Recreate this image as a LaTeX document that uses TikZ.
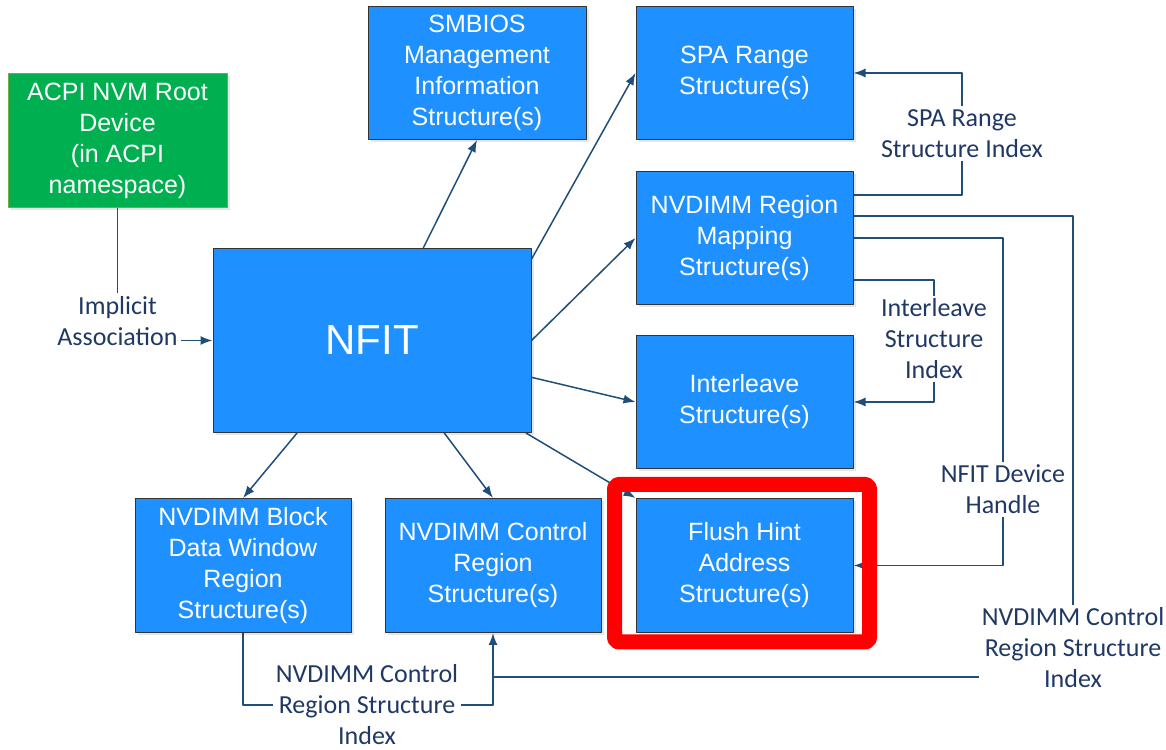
\documentclass[tikz,border=0pt]{standalone}
\usepackage{fontspec}
\setmainfont{Liberation Sans}
\newfontfamily\tagfont{Carlito}
\usetikzlibrary{arrows.meta,shadows}
\definecolor{boxblue}{RGB}{30,144,255}
\definecolor{rootgreen}{RGB}{0,176,80}
\definecolor{rootedge}{RGB}{112,173,71}
\definecolor{linkblue}{RGB}{31,78,121}
\definecolor{tagnavy}{RGB}{31,56,100}
\definecolor{hintred}{RGB}{255,0,0}
\begin{document}
\begin{tikzpicture}[>={Latex[length=12bp,width=9bp]},line join=bevel,
  box/.style={draw=black!80,line width=1bp,fill=boxblue,text=white,align=center,
    minimum width=217bp,minimum height=134bp,inner sep=0pt,
    font=\fontsize{25bp}{31bp}\selectfont,
    drop shadow={opacity=0.2,shadow xshift=3bp,shadow yshift=-3bp}},
  rootbox/.style={box,fill=rootgreen,draw=rootedge,minimum width=219bp},
  tag/.style={text=tagnavy,align=center,inner sep=3bp,font=\tagfont\fontsize{26bp}{31bp}\selectfont},
  link/.style={linkblue,line width=1.5bp},
]
\useasboundingbox (0bp,0bp) rectangle (1166bp,750bp);
%%
\node (node_root) at (117.5bp,609.5bp) [rootbox] {ACPI NVM Root\\Device\\(in ACPI\\namespace)};
  \node (node_nfit) at (372.0bp,409.5bp) [box,minimum width=318bp,minimum height=184bp,font=\fontsize{42bp}{50bp}\selectfont] {NFIT};
  \node (node_smbios) at (477.0bp,677.0bp) [box,minimum width=218bp,minimum height=133bp] {SMBIOS\\Management\\Information\\Structure(s)};
  \node (node_spa) at (744.5bp,677.0bp) [box,minimum height=133bp] {SPA Range\\Structure(s)};
  \node (node_map) at (744.5bp,512.0bp) [box,minimum height=133bp] {NVDIMM Region\\Mapping\\Structure(s)};
  \node (node_ilv) at (744.5bp,348.0bp) [box,minimum height=133bp] {Interleave\\Structure(s)};
  \node (node_flush) at (744.5bp,184.5bp) [box] {Flush Hint\\Address\\Structure(s)};
  \node (node_bdw) at (243.0bp,184.5bp) [box,minimum width=216bp] {NVDIMM Block\\Data Window\\Region\\Structure(s)};
  \node (node_ctl) at (493.0bp,184.5bp) [box,minimum width=216bp] {NVDIMM Control\\Region\\Structure(s)};
%
  \node (node_assoc) at (117.5bp,429.0bp) [tag] {Implicit\\Association};
  \node (node_spaidx) at (962.0bp,616.5bp) [tag] {SPA Range\\Structure Index};
  \node (node_ilvidx) at (934.0bp,411.0bp) [tag] {Interleave\\Structure\\Index};
  \node (node_devidx) at (1003.0bp,260.5bp) [tag] {NFIT Device\\Handle};
  \node (node_ctlidx) at (1073.0bp,102.0bp) [tag] {NVDIMM Control\\Region Structure\\Index};
  \node (node_bdwidx) at (367.0bp,45.0bp) [tag] {NVDIMM Control\\Region Structure\\Index};
  \coordinate (ctl_join) at (493.0bp,73.0bp);
%
  \draw [link] (node_root.south) -- (node_assoc.north);
  \draw [link,->] (node_assoc.east |- node_nfit.west) -- (node_nfit.west);
  \draw [link,->] (node_nfit.61) -- (node_smbios.south);
  \draw [link,->] (node_nfit.27) -- (node_spa.west);
  \draw [link,->] (node_nfit.east) -- (node_map.west);
  \draw [link,->] (node_nfit.-13) -- (node_ilv.west);
  \draw [link,->] (node_nfit.-31) -- (node_flush.north west);
  \draw [link,->] (node_nfit.231) -- (node_bdw.north);
  \draw [link,->] (node_nfit.-52) -- (node_ctl.north);
%
  \draw [link] ([yshift=-24bp]node_map.north east) -| (node_spaidx.south);
  \draw [link,->] (node_spaidx.north) |- (node_spa.east);
  \draw [link] ([yshift=-45bp]node_map.north east) -| (node_ctlidx.north);
  \draw [link] (node_map.east) -| (node_devidx.north);
  \draw [link,->] (node_devidx.south) |- (node_flush.east);
  \draw [link] ([yshift=25bp]node_map.south east) -| (node_ilvidx.north);
  \draw [link,->] (node_ilvidx.south) |- (node_ilv.east);
  \draw [link] (node_bdw.south) |- (node_bdwidx.west);
  \draw [link,->] (node_bdwidx.east) -| (node_ctl.south);
  \draw [link] (node_ctlidx.west |- ctl_join) -- (ctl_join);
%
  \draw [hintred,line width=15bp,rounded corners=4bp] (614.5bp,108.0bp) rectangle (869.5bp,265.5bp);
%
\end{tikzpicture}
\end{document}
